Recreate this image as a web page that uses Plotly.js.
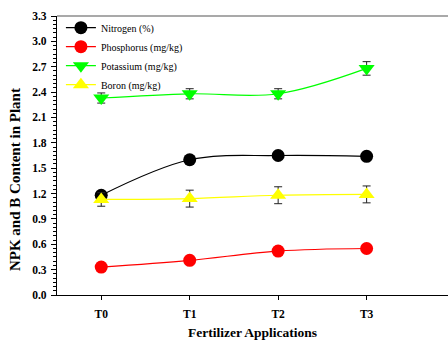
<!DOCTYPE html>
<html><head><meta charset="utf-8">
<script src="https://cdn.plot.ly/plotly-3.0.1.min.js"></script>
<style>body{margin:0;background:#fff}#c{width:448px;height:340px}</style>
</head><body><div id="c"></div>
<script>
const categories = ["T0", "T1", "T2", "T3"];
const nitrogen = [1.18, 1.60, 1.65, 1.64];
const nitrogenErr = [0.03, 0.03, 0.03, 0.03];
const phosphorus = [0.33, 0.41, 0.52, 0.55];
const phosphorusErr = [0.01, 0.01, 0.01, 0.01];
const potassium = [2.33, 2.38, 2.38, 2.68];
const potassiumErr = [0.06, 0.06, 0.06, 0.08];
const boron = [1.13, 1.14, 1.18, 1.19];
const boronErr = [0.08, 0.10, 0.10, 0.10];
const yTicks = [0.0, 0.3, 0.6, 0.9, 1.2, 1.5, 1.8, 2.1, 2.4, 2.7, 3.0, 3.3];
const SERIF = "Liberation Serif";

function series(name, y, err, color, symbol, size) {
  return {
    x: categories, y: y, name: name, type: "scatter", mode: "lines+markers",
    line: {color: color, width: 1.2, shape: "spline"},
    marker: {color: color, size: size, symbol: symbol},
    error_y: {type: "data", array: err, visible: true, color: "#222", thickness: 1, width: 4},
    cliponaxis: false
  };
}
const data = [
  series("Nitrogen (%)", nitrogen, nitrogenErr, "#000000", "circle", 13),
  series("Phosphorus (mg/kg)", phosphorus, phosphorusErr, "#ff0000", "circle", 13),
  series("Potassium (mg/kg)", potassium, potassiumErr, "#00ff00", "triangle-down", 14),
  series("Boron (mg/kg)", boron, boronErr, "#ffff00", "triangle-up", 14)
];
const layout = {
  width: 448, height: 340,
  margin: {l: 57, r: 0, t: 16, b: 45},
  paper_bgcolor: "#fff", plot_bgcolor: "#fff",
  showlegend: true,
  legend: {x: 0.01, y: 1.01, xanchor: "left", yanchor: "top", bgcolor: "rgba(0,0,0,0)",
    font: {family: SERIF, size: 10, color: "#000"},
    tracegroupgap: 0, itemwidth: 30},
  font: {family: SERIF, color: "#000"},
  xaxis: {
    type: "category", range: [-0.5, 3.92],
    showline: true, linecolor: "#000", linewidth: 1.2, mirror: false,
    ticks: "outside", ticklen: 4, tickcolor: "#000", ticklabelstandoff: 4,
    showgrid: false, zeroline: false,
    tickfont: {family: SERIF, size: 11.5, color: "#000", weight: "bold"},
    title: {text: "<b>Fertilizer Applications</b>", standoff: 12,
      font: {family: SERIF, size: 13.5, color: "#000"}}
  },
  yaxis: {
    range: [0, 3.3], tickvals: yTicks, ticktext: yTicks.map(v => v.toFixed(1)),
    showline: true, linecolor: "#000", linewidth: 1.2,
    ticks: "outside", ticklen: 5, tickcolor: "#000", ticklabelstandoff: 2,
    minor: {dtick: 0.05, ticks: "outside", ticklen: 3, tickcolor: "#000", showgrid: false},
    showgrid: false, zeroline: false,
    tickfont: {family: SERIF, size: 11.5, color: "#000", weight: "bold"}
  },
  annotations: [{
    text: "<b>NPK and B Content in Plant</b>", xref: "paper", yref: "paper",
    x: -0.1074, y: 0.412, xanchor: "center", yanchor: "middle", textangle: -90,
    showarrow: false, font: {family: SERIF, size: 15, color: "#000"}
  }],
  shapes: [{type: "line", xref: "paper", yref: "paper", x0: 0, x1: 1, y0: 1, y1: 1,
    line: {color: "#555", width: 1.2}}]
};
Plotly.newPlot("c", data, layout, {displayModeBar: false, staticPlot: true});
</script></body></html>
